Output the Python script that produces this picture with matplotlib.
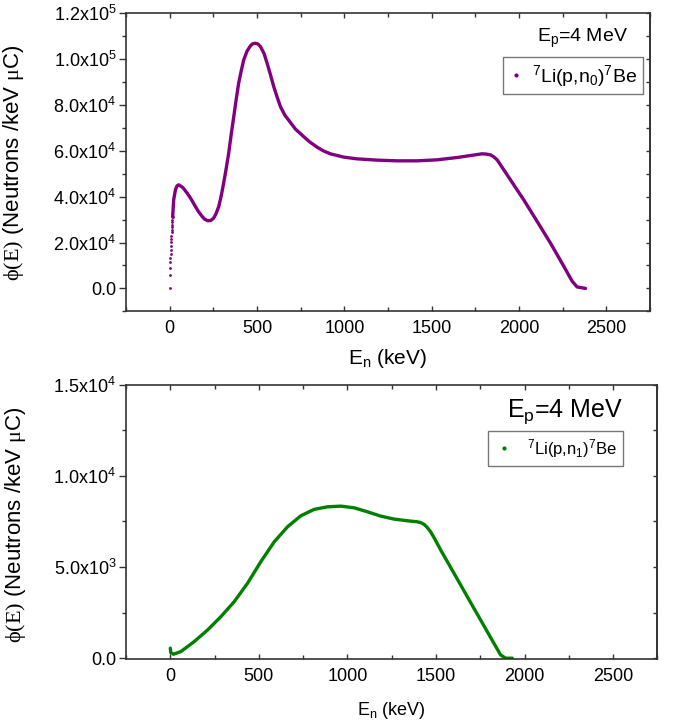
import matplotlib
matplotlib.use("Agg")
import math
import matplotlib.pyplot as plt
from matplotlib.ticker import MultipleLocator, FuncFormatter
from matplotlib.lines import Line2D

plt.rcParams['font.family'] = ['Liberation Sans', 'DejaVu Sans']
plt.rcParams['mathtext.fontset'] = 'custom'
plt.rcParams['mathtext.rm'] = 'Liberation Serif'
plt.rcParams['mathtext.it'] = 'Liberation Serif:italic'
plt.rcParams['mathtext.default'] = 'regular'

# ---- data: top panel, 7Li(p,n0)7Be ----
E0_dots = [0, 1, 2, 3, 4, 5, 6, 7, 8, 9, 10, 11, 12, 13, 14, 15, 16, 17]
phi0_dots = [0, 5970, 8870, 11330, 13250, 15100, 16860, 18600, 20040, 21500,
             22960, 24400, 25580, 26750, 27750, 28760, 29930, 31100]
E0_curve = [17, 23, 33, 42, 52, 75, 100, 125, 147, 165, 186, 200, 218, 235,
            252, 265, 281, 295, 309, 323, 338, 352, 367, 381, 395, 410, 424,
            443, 462, 475, 491, 505, 520, 540, 558, 577, 596, 615, 634, 660,
            691, 720, 767, 800, 844, 880, 920, 997, 1073, 1188, 1302, 1417,
            1531, 1646, 1722, 1789, 1810, 1837, 1855, 1875, 1951, 2027, 2104,
            2180, 2257, 2305, 2333, 2381]
phi0_curve = [31100, 38650, 43000, 44700, 45190, 44000, 41570, 38700, 35730,
              33500, 31370, 30200, 29500, 29600, 30680, 32500, 35730, 40300,
              45930, 52000, 59000, 67000, 74950, 82500, 89500, 95000, 99650,
              103500, 105750, 106700, 106930, 106600, 105450, 102500, 98200,
              93200, 88000, 83500, 79300, 75500, 72400, 69500, 66230, 64000,
              61600, 60000, 58700, 57250, 56500, 55950, 55640, 55640, 56080,
              57080, 57950, 58700, 58600, 58260, 57400, 56080, 47360, 38650,
              29200, 19780, 9590, 3050, 610, 0]

# ---- data: bottom panel, 7Li(p,n1)7Be ----
E1 = [0, 3, 19, 60, 135, 211, 286, 361, 436, 511, 587, 662, 737, 812, 887, 963,
      1038, 1113, 1188, 1263, 1339, 1395, 1413, 1433, 1450, 1470, 1490, 1527,
      1602, 1677, 1752, 1827, 1865, 1893, 1931]
phi1 = [550, 300, 219, 365, 910, 1550, 2280, 3100, 4107, 5290, 6386, 7207, 7810,
        8160, 8302, 8340, 8248, 8030, 7793, 7630, 7536, 7481, 7440, 7338, 7180,
        6933, 6600, 5931, 4655, 3373, 2097, 821, 180, 0, 0]

label0 = r"$^{7}$Li(p,n$_{0}$)$^{7}$Be"
label1 = r"$^{7}$Li(p,n$_{1}$)$^{7}$Be"
ep_text = r"E$_{p}$=4 MeV"
ylabel = r"$\mathrm{\phi(E)}$ (Neutrons /keV $\mathrm{\mu}$C)"
xlabel = r"E$_{n}$ (keV)"

purple = '#800080'
green = '#008000'
spine_c = '#333333'


def sci_fmt(v, pos):
    if abs(v) < 1e-9:
        return "0.0"
    e = int(math.floor(math.log10(abs(v))))
    m = v / 10 ** e
    return "%.1fx10$^{%d}$" % (m, e)


def style(ax, ymaj, ymin):
    ax.set_xlim(-250, 2750)
    ax.xaxis.set_major_locator(MultipleLocator(500))
    ax.xaxis.set_minor_locator(MultipleLocator(250))
    ax.yaxis.set_major_locator(MultipleLocator(ymaj))
    ax.yaxis.set_minor_locator(MultipleLocator(ymin))
    ax.yaxis.set_major_formatter(FuncFormatter(sci_fmt))
    for s in ax.spines.values():
        s.set_color(spine_c)
        s.set_linewidth(1.2)
    ax.tick_params(axis='x', which='both', direction='in', top=True,
                   bottom=True, colors=spine_c, labelcolor='black',
                   labelsize=13, pad=6)
    ax.tick_params(axis='x', which='major', length=3.5, width=1)
    ax.tick_params(axis='x', which='minor', length=3.0, width=1)
    ax.tick_params(axis='y', which='both', direction='out', left=True,
                   right=False, colors=spine_c, labelcolor='black',
                   labelsize=13, pad=2)
    ax.tick_params(axis='y', which='major', length=5, width=1)
    ax.tick_params(axis='y', which='minor', length=3, width=1)
    sec = ax.secondary_yaxis('right')
    sec.yaxis.set_major_locator(MultipleLocator(ymin))
    sec.tick_params(direction='in', length=3, width=1, colors=spine_c,
                    labelright=False)
    sec.spines['right'].set_color(spine_c)
    sec.spines['right'].set_linewidth(1.2)


fig = plt.figure(figsize=(6.76, 7.26), dpi=100)

# ---------- top panel ----------
ax1 = fig.add_axes([0.1864, 0.5712, 0.7751, 0.4105])
ax1.plot(E0_dots, phi0_dots, 'o', ms=2, color=purple, mec='none')
ax1.plot(E0_curve, phi0_curve, '-', lw=2.4, color=purple,
         solid_capstyle='round', solid_joinstyle='round')
ax1.set_ylim(-10000, 120000)
style(ax1, 20000, 10000)
ax1.set_ylabel(ylabel, fontsize=16)
ax1.yaxis.set_label_coords(-0.19, 0.5)
ax1.set_xlabel(xlabel, fontsize=15)
ax1.xaxis.set_label_coords(0.5, -0.12)
ax1.text(0.872, 0.905, ep_text, transform=ax1.transAxes, ha='center',
         va='baseline', fontsize=14)
leg1 = ax1.legend(handles=[Line2D([], [], marker='o', ls='none', ms=3,
                                  color=purple, mec='none')],
                  labels=[label0], loc='upper left',
                  bbox_to_anchor=(0.719, 0.854), borderaxespad=0,
                  fontsize=14, frameon=True, fancybox=False, handlelength=0.8,
                  handletextpad=0.4, borderpad=0.3)
leg1.get_frame().set_edgecolor('#555555')
leg1.get_frame().set_linewidth(1.0)

# ---------- bottom panel ----------
ax2 = fig.add_axes([0.1864, 0.0919, 0.786, 0.3782])
ax2.plot(E1, phi1, '-', lw=2.4, color=green, solid_capstyle='round',
         solid_joinstyle='round')
ax2.set_ylim(-60, 15000)
style(ax2, 5000, 2500)
ax2.set_ylabel(ylabel, fontsize=16)
ax2.yaxis.set_label_coords(-0.185, 0.49)
ax2.set_xlabel(xlabel, fontsize=13)
ax2.xaxis.set_label_coords(0.5, -0.15)
ax2.text(0.826, 0.883, ep_text, transform=ax2.transAxes, ha='center',
         va='baseline', fontsize=18)
leg2 = ax2.legend(handles=[Line2D([], [], marker='o', ls='none', ms=3,
                                  color=green, mec='none')],
                  labels=[label1], loc='upper left',
                  bbox_to_anchor=(0.681, 0.831), borderaxespad=0,
                  fontsize=12, frameon=True, fancybox=False, handlelength=1.2,
                  handletextpad=0.8, borderpad=0.35)
leg2.get_frame().set_edgecolor('#555555')
leg2.get_frame().set_linewidth(1.0)

fig.savefig('out.png', dpi=100)
